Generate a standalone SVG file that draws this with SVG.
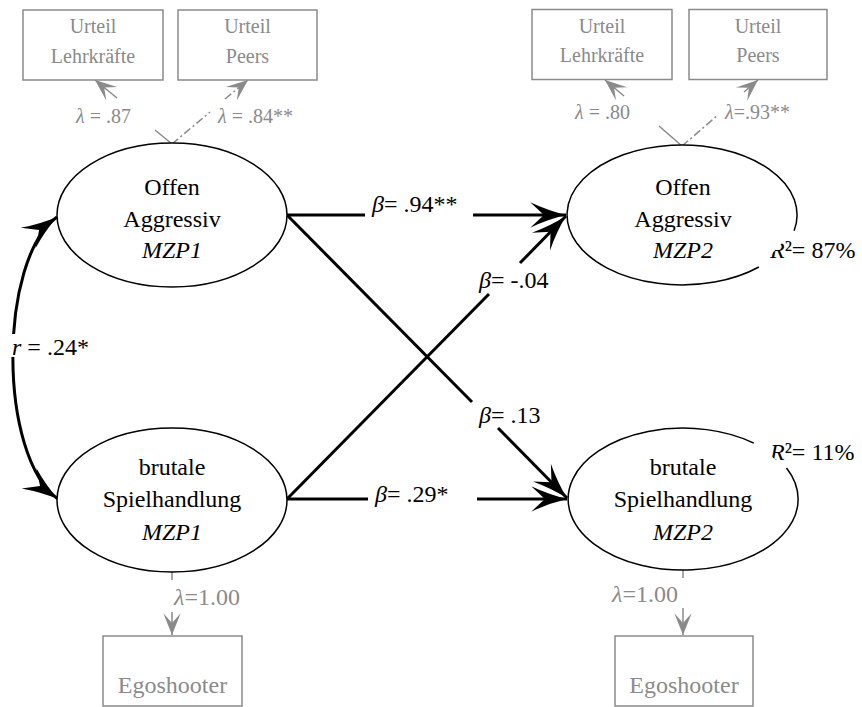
<svg xmlns="http://www.w3.org/2000/svg" width="862" height="707" viewBox="0 0 862 707" font-family="'Liberation Serif', serif">
<style>
text{font-family:"Liberation Serif","Times New Roman",serif;}
.main{font-size:24px;fill:#000;text-anchor:middle;}
.lbl{font-size:24px;fill:#000;}
.glbl{font-size:20px;fill:#8a8a8a;}
.glbl24{font-size:24px;fill:#8a8a8a;}
.gbox{fill:#fff;stroke:#8a8a8a;stroke-width:1.5;}
.gtxt{font-size:20px;fill:#8a8a8a;text-anchor:middle;}
.gtxt24{font-size:24px;fill:#8a8a8a;text-anchor:middle;}
.ell{fill:#fff;stroke:#000;stroke-width:1.5;}
.conn{fill:none;stroke:#000;stroke-width:3;}
.gconn{fill:none;stroke:#8a8a8a;stroke-width:1.5;}
.dd{stroke-dasharray:8 3 2 3;}
.it{font-style:italic;}
</style>
<defs>
<marker id="ah" markerUnits="userSpaceOnUse" markerWidth="40" markerHeight="30" viewBox="-36 -14 38 28" refX="0" refY="0" orient="auto-start-reverse">
<path d="M0,0 Q-17,-4 -34,-12 L-21,0 L-34,12 Q-17,4 0,0 Z" fill="#000"/>
</marker>
<marker id="gah" markerUnits="userSpaceOnUse" markerWidth="26" markerHeight="22" viewBox="-22 -10 24 20" refX="0" refY="0" orient="auto">
<path d="M0,0 L-20,-8 L-11,0 L-20,8 Z" fill="#8a8a8a"/>
</marker>
</defs>

<g id="connectors">
<path class="conn" d="M287,215 H365"/>
<path class="conn" d="M473,215 H566" marker-end="url(#ah)"/>
<path class="conn" d="M287,499 H368"/>
<path class="conn" d="M477,499 H567" marker-end="url(#ah)"/>
<path class="conn" d="M287,215 L472,402"/>
<path class="conn" d="M498,428 L567,498" marker-end="url(#ah)"/>
<path class="conn" d="M287,499 L489,294"/>
<path class="conn" d="M520,263 L566,216" marker-end="url(#ah)"/>
<path class="conn" d="M57,217 C -2,260 -2,456 58,499" marker-start="url(#ah)" marker-end="url(#ah)"/>
<path class="gconn" d="M172,144 L155,130"/>
<path class="gconn" d="M117,98 L95,80" marker-end="url(#gah)"/>
<path class="gconn dd" d="M172,144 L210,112"/>
<path class="gconn dd" d="M225,99 L248,80" marker-end="url(#gah)"/>
<path class="gconn" d="M682,146 L659,126"/>
<path class="gconn" d="M624,96 L605,80" marker-end="url(#gah)"/>
<path class="gconn dd" d="M682,146 L718,115"/>
<path class="gconn dd" d="M744,92 L758,80" marker-end="url(#gah)"/>
<path class="gconn" d="M172,572 V580"/>
<path class="gconn" d="M172,612 V635" marker-end="url(#gah)"/>
<path class="gconn" d="M683,570 V578"/>
<path class="gconn" d="M683,608 V635" marker-end="url(#gah)"/>
</g>

<g id="labels">
<rect x="10" y="334" width="80" height="23" fill="#fff"/>
<text class="lbl" x="12" y="355"><tspan class="it">r</tspan> = .24*</text>
<text class="lbl" x="372" y="212"><tspan class="it">β</tspan>= .94**</text>
<text class="lbl" x="375" y="502"><tspan class="it">β</tspan>= .29*</text>
<text class="lbl" x="479" y="288"><tspan class="it">β</tspan>= -.04</text>
<text class="lbl" x="479" y="423"><tspan class="it">β</tspan>= .13</text>
<text class="glbl" x="76" y="123"><tspan class="it">λ</tspan> = .87</text>
<text class="glbl" x="218" y="123"><tspan class="it">λ</tspan> = .84**</text>
<text class="glbl" x="575" y="119"><tspan class="it">λ</tspan> = .80</text>
<text class="glbl" x="725" y="119"><tspan class="it">λ</tspan>=.93**</text>
<text class="glbl24" x="174" y="605"><tspan class="it">λ</tspan>=1.00</text>
<text class="glbl24" x="612" y="602"><tspan class="it">λ</tspan>=1.00</text>
<text class="lbl" x="770" y="258"><tspan class="it">R</tspan>²= 87%</text>
<text class="lbl" x="770" y="460"><tspan class="it">R</tspan>²= 11%</text>
</g>

<g id="node-oa1">
<ellipse class="ell" cx="172" cy="215" rx="115" ry="72"/>
<text class="main" x="172" y="195">Offen</text>
<text class="main" x="172" y="227">Aggressiv</text>
<text class="main it" x="172" y="258">MZP1</text>
</g>
<g id="node-bs1">
<ellipse class="ell" cx="172" cy="500" rx="115" ry="72"/>
<text class="main" x="172" y="475">brutale</text>
<text class="main" x="172" y="507">Spielhandlung</text>
<text class="main it" x="172" y="540">MZP1</text>
</g>
<g id="node-oa2">
<path class="ell" d="M758.9,267 A115,70 0 1 1 794.1,230.7"/>
<text class="main" x="683" y="195">Offen</text>
<text class="main" x="683" y="227">Aggressiv</text>
<text class="main it" x="683" y="258">MZP2</text>
</g>
<g id="node-bs2">
<path class="ell" d="M786.5,468 A115,71 0 1 1 753.8,443.1"/>
<text class="main" x="683" y="475">brutale</text>
<text class="main" x="683" y="507">Spielhandlung</text>
<text class="main it" x="683" y="540">MZP2</text>
</g>

<g id="node-ul1">
<rect class="gbox" x="23" y="10" width="140" height="70"/>
<text class="gtxt" x="93" y="33">Urteil</text>
<text class="gtxt" x="93" y="63">Lehrkräfte</text>
</g>
<g id="node-up1">
<rect class="gbox" x="178" y="10" width="139" height="70"/>
<text class="gtxt" x="247.5" y="33">Urteil</text>
<text class="gtxt" x="247.5" y="63">Peers</text>
</g>
<g id="node-ul2">
<rect class="gbox" x="532" y="9.5" width="140" height="70"/>
<text class="gtxt" x="602" y="33">Urteil</text>
<text class="gtxt" x="602" y="62">Lehrkräfte</text>
</g>
<g id="node-up2">
<rect class="gbox" x="689" y="9.5" width="138" height="70"/>
<text class="gtxt" x="758" y="33">Urteil</text>
<text class="gtxt" x="758" y="62">Peers</text>
</g>
<g id="node-eg1">
<rect class="gbox" x="103" y="636" width="139" height="70"/>
<text class="gtxt24" x="172.5" y="693">Egoshooter</text>
</g>
<g id="node-eg2">
<rect class="gbox" x="615" y="636" width="138" height="70"/>
<text class="gtxt24" x="684" y="693">Egoshooter</text>
</g>
</svg>
